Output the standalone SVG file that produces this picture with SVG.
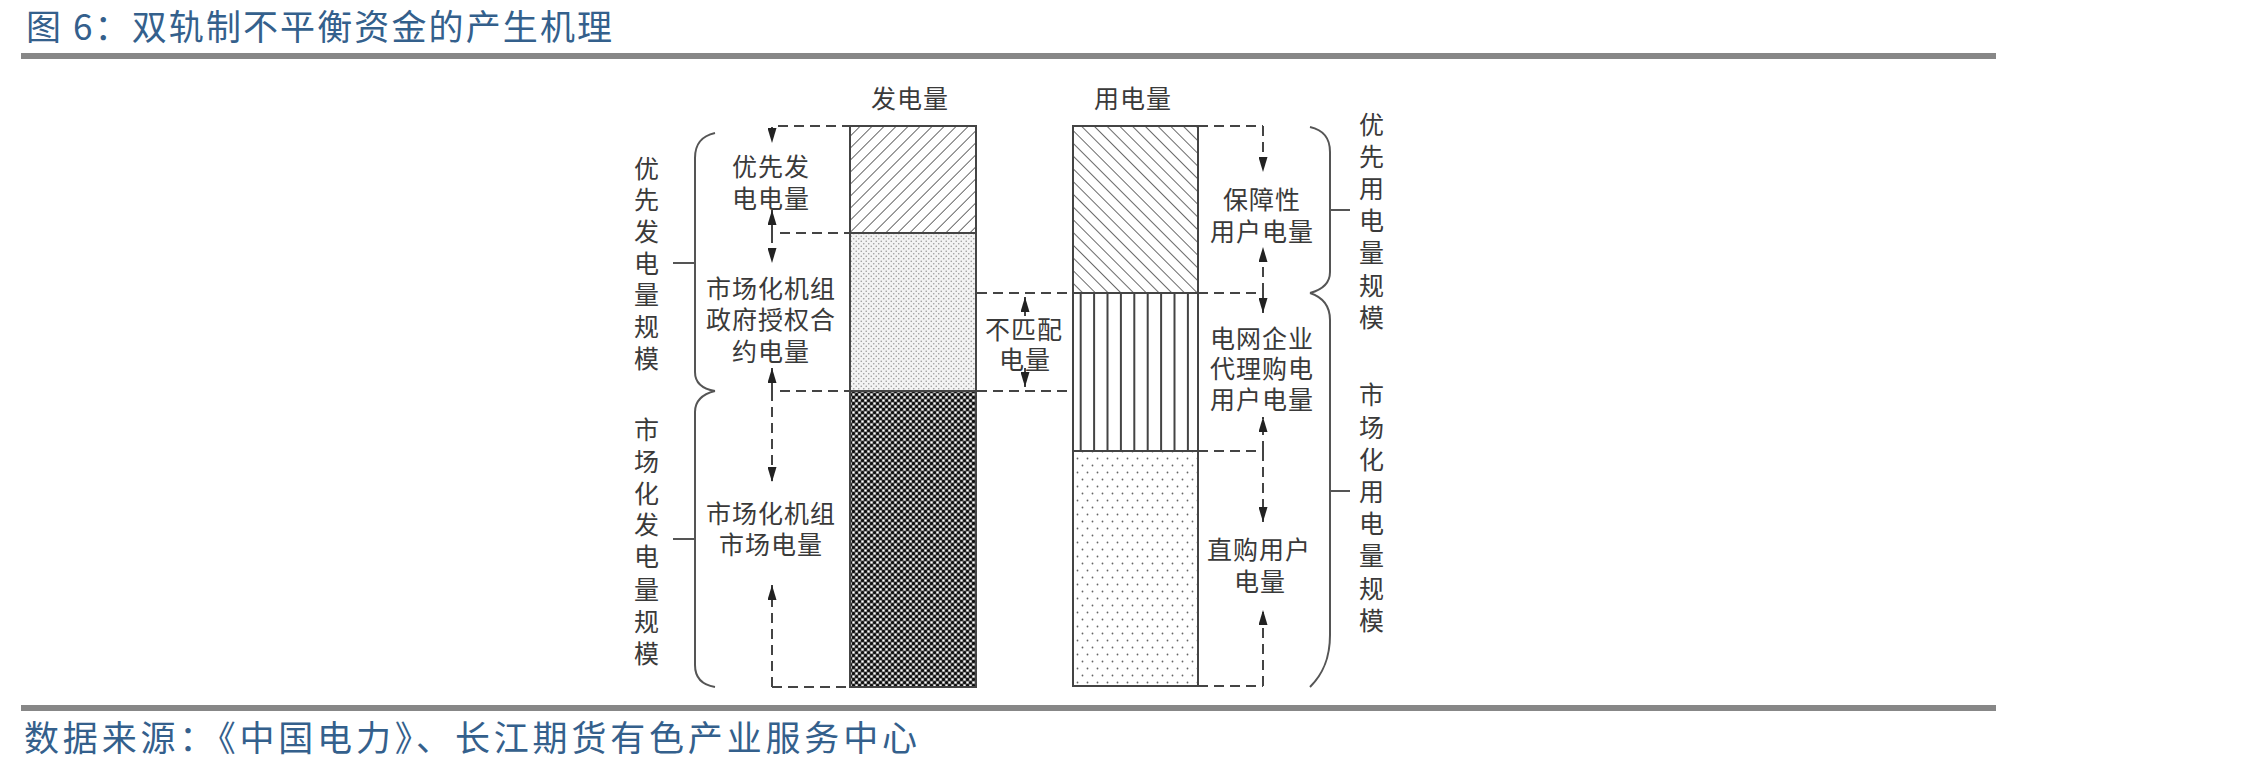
<svg xmlns="http://www.w3.org/2000/svg" width="2246" height="770" viewBox="0 0 2246 770">
<style>
.hd{font-family:"Noto Sans CJK SC","Liberation Sans",sans-serif;fill:#34608c;}
.t{font-family:"Noto Sans CJK SC","Liberation Sans",sans-serif;font-size:25px;fill:#3a3a3a;text-anchor:middle;dominant-baseline:central;letter-spacing:1px;}
.bar{fill:none;stroke:#444;stroke-width:2;}
.div{stroke:#444;stroke-width:2;}
.dash{stroke:#444;stroke-width:2;stroke-dasharray:10 6;fill:none;}
.brace{fill:none;stroke:#555;stroke-width:2;}
.vl{stroke:#444;stroke-width:2;}
</style>
<defs>
<marker id="ah" viewBox="0 0 15 9" refX="15" refY="4.5" markerWidth="15" markerHeight="9" markerUnits="userSpaceOnUse" orient="auto">
<path d="M0,0 L15,4.5 L0,9 z" fill="#222"/>
</marker>
<pattern id="hatchR" patternUnits="userSpaceOnUse" width="8.5" height="8.5" patternTransform="rotate(45)">
<rect width="8.5" height="8.5" fill="#fff"/>
<line x1="0" y1="0" x2="0" y2="8.5" stroke="#444" stroke-width="1.6"/>
</pattern>
<pattern id="hatchL" patternUnits="userSpaceOnUse" width="9" height="9" patternTransform="rotate(-45)">
<rect width="9" height="9" fill="#fff"/>
<line x1="0" y1="0" x2="0" y2="9" stroke="#444" stroke-width="1.6"/>
</pattern>
<pattern id="dotsLight" patternUnits="userSpaceOnUse" width="5" height="5">
<rect width="5" height="5" fill="#f3f3f3"/>
<circle cx="1.25" cy="1.25" r="0.8" fill="#9a9a9a"/>
<circle cx="3.75" cy="3.75" r="0.8" fill="#9a9a9a"/>
</pattern>
<pattern id="checker" patternUnits="userSpaceOnUse" width="6" height="6">
<rect width="6" height="6" fill="#777"/>
<circle cx="1.5" cy="1.5" r="1.6" fill="#111"/>
<circle cx="4.5" cy="4.5" r="1.6" fill="#111"/>
<circle cx="4.5" cy="1.5" r="1.1" fill="#fff"/>
<circle cx="1.5" cy="4.5" r="1.1" fill="#fff"/>
</pattern>
<pattern id="dotsSparse" patternUnits="userSpaceOnUse" width="10" height="14">
<rect width="10" height="14" fill="#fff"/>
<circle cx="2.5" cy="3.5" r="0.9" fill="#666"/>
<circle cx="7.5" cy="10.5" r="0.9" fill="#666"/>
</pattern>
</defs>
<rect width="2246" height="770" fill="#fff"/>

<g id="header">
<text class="hd" x="26" y="40" font-size="35" textLength="586" lengthAdjust="spacing">图 6：双轨制不平衡资金的产生机理</text>
<rect x="21" y="53" width="1975" height="6" fill="#878787"/>
</g>

<g id="footer">
<rect x="21" y="705" width="1975" height="6" fill="#878787"/>
<text class="hd" x="24" y="751" font-size="35" textLength="893" lengthAdjust="spacing">数据来源：《中国电力》、长江期货有色产业服务中心</text>
</g>

<g id="gen-bar">
<text class="t" x="910" y="97">发电量</text>
<rect x="850" y="126" width="126" height="107" fill="url(#hatchR)"/>
<rect x="850" y="233" width="126" height="158" fill="url(#dotsLight)"/>
<rect x="850" y="391" width="126" height="296" fill="url(#checker)"/>
<rect class="bar" x="850" y="126" width="126" height="561"/>
<line class="div" x1="850" y1="233" x2="976" y2="233"/>
<line class="div" x1="850" y1="391" x2="976" y2="391"/>
</g>

<g id="use-bar">
<text class="t" x="1133" y="97">用电量</text>
<rect x="1073" y="126" width="125" height="167" fill="url(#hatchL)"/>
<rect x="1073" y="293" width="125" height="158" fill="#fff"/>
<g class="vl">
<line x1="1080.7" y1="293" x2="1080.7" y2="451"/>
<line x1="1094.1" y1="293" x2="1094.1" y2="451"/>
<line x1="1107.5" y1="293" x2="1107.5" y2="451"/>
<line x1="1120.9" y1="293" x2="1120.9" y2="451"/>
<line x1="1134.3" y1="293" x2="1134.3" y2="451"/>
<line x1="1147.7" y1="293" x2="1147.7" y2="451"/>
<line x1="1161.1" y1="293" x2="1161.1" y2="451"/>
<line x1="1174.5" y1="293" x2="1174.5" y2="451"/>
<line x1="1187.9" y1="293" x2="1187.9" y2="451"/>
</g>
<rect x="1073" y="451" width="125" height="235" fill="url(#dotsSparse)"/>
<rect class="bar" x="1073" y="126" width="125" height="560"/>
<line class="div" x1="1073" y1="293" x2="1198" y2="293"/>
<line class="div" x1="1073" y1="451" x2="1198" y2="451"/>
</g>

<g id="connectors">
<line class="dash" x1="778" y1="126" x2="850" y2="126"/>
<line class="dash" x1="780" y1="233" x2="850" y2="233"/>
<line class="dash" x1="780" y1="391" x2="850" y2="391"/>
<line class="dash" x1="772" y1="687" x2="850" y2="687"/>
<line class="dash" x1="772" y1="127" x2="772" y2="143" marker-end="url(#ah)"/>
<line class="dash" x1="772" y1="233" x2="772" y2="210" marker-end="url(#ah)"/>
<line class="dash" x1="772" y1="233" x2="772" y2="263" marker-end="url(#ah)"/>
<line class="dash" x1="772" y1="391" x2="772" y2="368" marker-end="url(#ah)"/>
<line class="dash" x1="772" y1="391" x2="772" y2="482" marker-end="url(#ah)"/>
<line class="dash" x1="772" y1="687" x2="772" y2="585" marker-end="url(#ah)"/>

<line class="dash" x1="977" y1="293" x2="1073" y2="293"/>
<line class="dash" x1="977" y1="391" x2="1073" y2="391"/>
<line class="dash" x1="1025" y1="316" x2="1025" y2="297" marker-end="url(#ah)"/>
<line class="dash" x1="1025" y1="368" x2="1025" y2="387" marker-end="url(#ah)"/>

<line class="dash" x1="1198" y1="126" x2="1263" y2="126"/>
<line class="dash" x1="1198" y1="293" x2="1263" y2="293"/>
<line class="dash" x1="1198" y1="451" x2="1263" y2="451"/>
<line class="dash" x1="1198" y1="686" x2="1263" y2="686"/>
<line class="dash" x1="1263" y1="126" x2="1263" y2="172" marker-end="url(#ah)"/>
<line class="dash" x1="1263" y1="293" x2="1263" y2="247" marker-end="url(#ah)"/>
<line class="dash" x1="1263" y1="293" x2="1263" y2="313" marker-end="url(#ah)"/>
<line class="dash" x1="1263" y1="451" x2="1263" y2="417" marker-end="url(#ah)"/>
<line class="dash" x1="1263" y1="451" x2="1263" y2="522" marker-end="url(#ah)"/>
<line class="dash" x1="1263" y1="686" x2="1263" y2="610" marker-end="url(#ah)"/>
</g>

<g id="gen-labels">
<text class="t" x="771" y="165">优先发</text>
<text class="t" x="771" y="197">电电量</text>
<text class="t" x="771" y="287">市场化机组</text>
<text class="t" x="771" y="318">政府授权合</text>
<text class="t" x="771" y="350">约电量</text>
<text class="t" x="771" y="512">市场化机组</text>
<text class="t" x="771" y="543">市场电量</text>
</g>

<g id="mismatch-label">
<text class="t" x="1024" y="328">不匹配</text>
<text class="t" x="1025" y="358">电量</text>
</g>

<g id="use-labels">
<text class="t" x="1262" y="198">保障性</text>
<text class="t" x="1262" y="230">用户电量</text>
<text class="t" x="1262" y="337">电网企业</text>
<text class="t" x="1262" y="367">代理购电</text>
<text class="t" x="1262" y="398">用户电量</text>
<text class="t" x="1259" y="548">直购用户</text>
<text class="t" x="1260" y="580">电量</text>
</g>

<g id="left-braces">
<path class="brace" d="M715,133 C702,136 695,143 695,158 L695,372 C695,383 703,389 715,391"/>
<path class="brace" d="M673,263 L695,263"/>
<path class="brace" d="M715,391 C703,394 695,400 695,412 L695,665 C695,678 703,685 715,687"/>
<path class="brace" d="M673,539 L695,539"/>
<text class="t" x="647" y="167">优</text>
<text class="t" x="647" y="198">先</text>
<text class="t" x="647" y="230">发</text>
<text class="t" x="647" y="262">电</text>
<text class="t" x="647" y="293">量</text>
<text class="t" x="647" y="325">规</text>
<text class="t" x="647" y="357">模</text>
<text class="t" x="647" y="428">市</text>
<text class="t" x="647" y="460">场</text>
<text class="t" x="647" y="492">化</text>
<text class="t" x="647" y="523">发</text>
<text class="t" x="647" y="555">电</text>
<text class="t" x="647" y="588">量</text>
<text class="t" x="647" y="620">规</text>
<text class="t" x="647" y="652">模</text>
</g>

<g id="right-braces">
<path class="brace" d="M1310,127 C1323,130 1330,137 1330,152 L1330,272 C1330,284 1321,290 1310,293"/>
<path class="brace" d="M1330,210 L1350,210"/>
<path class="brace" d="M1310,293 C1322,297 1330,305 1330,320 L1330,635 C1330,660 1322,675 1310,687"/>
<path class="brace" d="M1330,491 L1350,491"/>
<text class="t" x="1372" y="123">优</text>
<text class="t" x="1372" y="155">先</text>
<text class="t" x="1372" y="187">用</text>
<text class="t" x="1372" y="219">电</text>
<text class="t" x="1372" y="251">量</text>
<text class="t" x="1372" y="284">规</text>
<text class="t" x="1372" y="316">模</text>
<text class="t" x="1372" y="393">市</text>
<text class="t" x="1372" y="426">场</text>
<text class="t" x="1372" y="458">化</text>
<text class="t" x="1372" y="490">用</text>
<text class="t" x="1372" y="522">电</text>
<text class="t" x="1372" y="554">量</text>
<text class="t" x="1372" y="587">规</text>
<text class="t" x="1372" y="619">模</text>
</g>
</svg>
